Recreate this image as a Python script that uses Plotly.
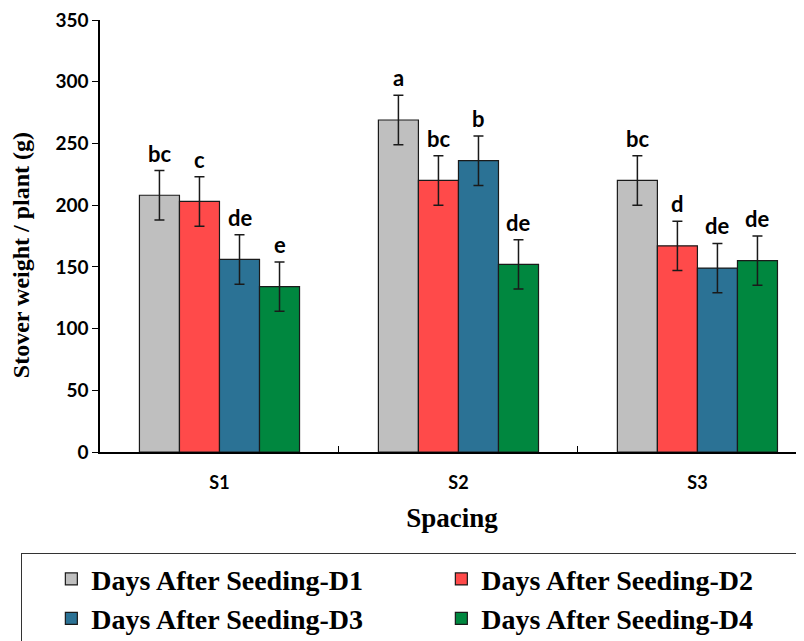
import plotly.graph_objects as go

categories = ["S1", "S2", "S3"]
series_names = ["Days After Seeding-D1", "Days After Seeding-D2",
                "Days After Seeding-D3", "Days After Seeding-D4"]
d1 = [208, 269, 220]
d2 = [203, 220, 167]
d3 = [156, 236, 149]
d4 = [134, 152, 155]
err_d1 = [20, 20, 20]
err_d2 = [20, 20, 20]
err_d3 = [20, 20, 20]
err_d4 = [20, 20, 20]
letters_d1 = ["bc", "a", "bc"]
letters_d2 = ["c", "bc", "d"]
letters_d3 = ["de", "b", "de"]
letters_d4 = ["e", "de", "de"]

colors = ["#BFBFBF", "#FF4A4A", "#2B7295", "#00873F"]
values = [d1, d2, d3, d4]
errors = [err_d1, err_d2, err_d3, err_d4]
letters = [letters_d1, letters_d2, letters_d3, letters_d4]

bargap = 0.33
fig = go.Figure()
for name, vals, errs, col in zip(series_names, values, errors, colors):
    fig.add_trace(go.Bar(
        x=categories, y=vals, name=name,
        marker=dict(color=col, line=dict(color="#1a1a1a", width=1.2)),
        error_y=dict(type="data", array=errs, visible=True,
                     color="#1a1a1a", thickness=1.5, width=5),
    ))

w = (1 - bargap) / 4
annotations = []
for j, (vals, errs, labs) in enumerate(zip(values, errors, letters)):
    for i, (v, e, t) in enumerate(zip(vals, errs, labs)):
        annotations.append(dict(
            x=i + (j - 1.5) * w, y=v + e, xref="x", yref="y",
            text=t, showarrow=False, yanchor="bottom", yshift=2,
            font=dict(family="Lato", size=22, color="black", weight="bold"),
        ))

# y-axis title
annotations.append(dict(
    x=-0.112, y=0.456, xref="paper", yref="paper", textangle=-90,
    text="Stover weight / plant (g)", showarrow=False,
    xanchor="center", yanchor="middle",
    font=dict(family="Liberation Serif", size=24, color="black", weight="bold"),
))

fig.update_layout(
    width=796, height=633,
    margin=dict(l=92, r=0, t=12, b=189, autoexpand=False),
    plot_bgcolor="white", paper_bgcolor="white",
    barmode="group", bargap=bargap, bargroupgap=0,
    showlegend=True,
    legend=dict(
        orientation="h", x=-0.112, xanchor="left", y=-0.2338, yanchor="top",
        bordercolor="#333333", borderwidth=1.2, entrywidth=316,
        indentation=29,
        font=dict(family="Liberation Serif", size=28, color="black", weight="bold"),
    ),
    annotations=annotations,
    xaxis=dict(
        range=[-0.5, 2.446], showline=True, linecolor="black", linewidth=1.5,
        ticks="inside", tickson="boundaries", ticklen=6, tickcolor="black",
        tickfont=dict(family="Lato", size=18, color="black", weight="bold"),
        ticklabelstandoff=14,
        title=dict(text="Spacing", standoff=16,
                   font=dict(family="Liberation Serif", size=27, color="black", weight="bold")),
    ),
    yaxis=dict(
        range=[0, 350], dtick=50, showline=True, linecolor="black", linewidth=1.5,
        ticks="outside", ticklen=6, tickcolor="black", showgrid=False, zeroline=False,
        ticklabeloverflow="allow",
        tickfont=dict(family="Lato", size=19, color="black", weight="bold"),
    ),
)

fig.write_html("out.html")
